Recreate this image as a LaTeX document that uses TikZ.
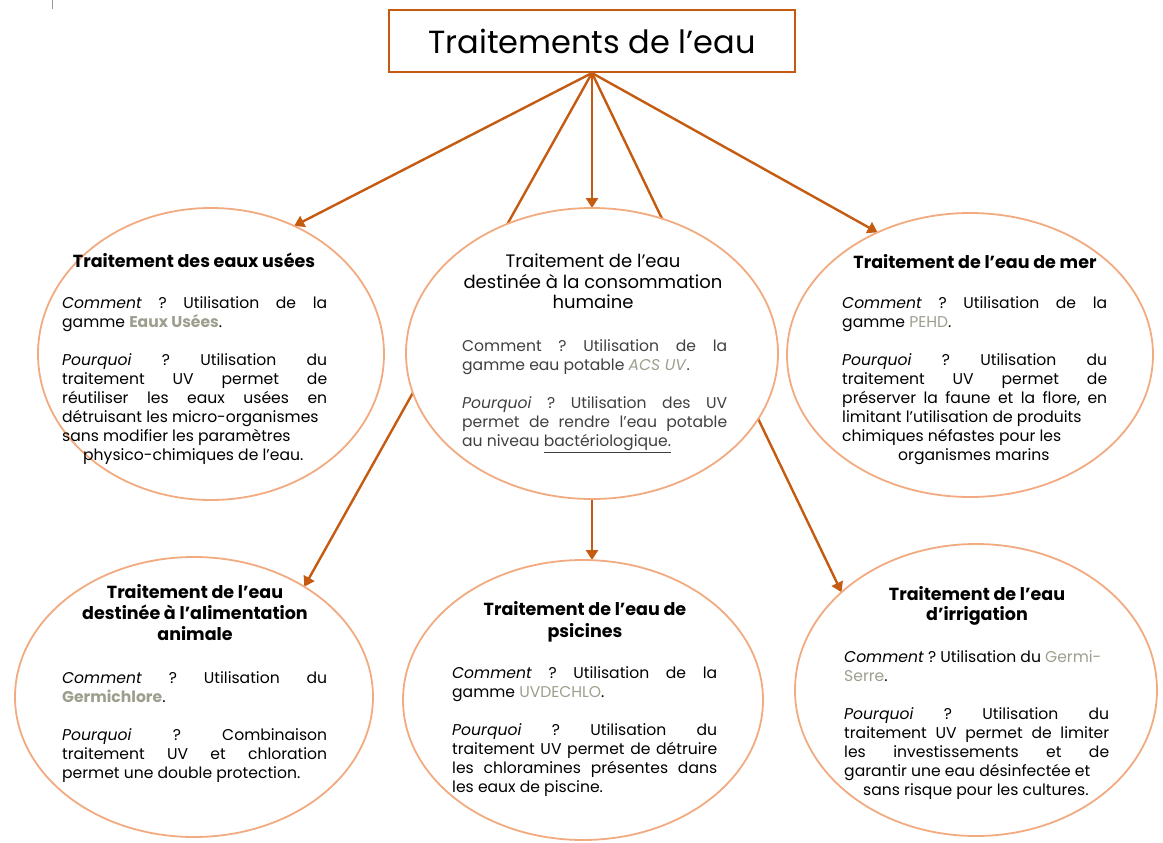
\documentclass[tikz,border=0pt]{standalone}
\usepackage{fontspec}
\setmainfont{Poppins}
\usetikzlibrary{shapes.geometric,arrows.meta}
\definecolor{connc}{RGB}{197,90,17}
\definecolor{ellc}{RGB}{242,170,128}
\definecolor{hlc}{RGB}{158,158,142}
\definecolor{softc}{RGB}{64,64,64}
\pgfdeclarelayer{bg}
\pgfsetlayers{bg,main}
\newcommand\bodyfs{\fontsize{15.6}{19}\selectfont}
\newcommand\headfs{\fontsize{17.5}{20.5}\selectfont}
\newcommand\headlfs{\fontsize{18}{20}\selectfont}
\tikzset{
  oval/.style={ellipse, draw=ellc, line width=1.8pt, inner sep=0pt, outer sep=0pt},
  titlebox/.style={draw=connc, line width=2pt, fill=white, inner sep=0pt,
    minimum width=406pt, minimum height=62pt, font=\fontsize{32}{40}\selectfont},
  conn/.style={draw=connc, line width=2.4pt},
  arr/.style={conn, -{Triangle[length=10pt,width=12pt]}},
  head/.style={anchor=north, inner sep=0pt, align=center, font=\headfs\bfseries},
  headlight/.style={anchor=north, inner sep=0pt, align=center, font=\headlfs},
  body/.style={anchor=north west, inner sep=0pt, text width=265pt, align=justify, font=\bodyfs},
}
\begin{document}
\frenchspacing
\begin{tikzpicture}[x=1pt,y=-1pt]
\useasboundingbox (0,0) rectangle (1163,843);
\draw[gray!80, line width=1pt] (52,0) -- (52,9);

% title
\node[titlebox] (title) at (592,41) {Traitements de l’eau};

% ellipses
\node[oval, minimum width=346pt, minimum height=292pt] (e1) at (211,354) {};
\node[oval, fill=white, minimum width=372pt, minimum height=291pt] (e2) at (592,353.5) {};
\node[oval, minimum width=366pt, minimum height=284pt] (e3) at (970,355) {};
\node[oval, minimum width=358pt, minimum height=280pt] (e4) at (194,697) {};
\node[oval, minimum width=360pt, minimum height=280pt] (e5) at (583,700) {};
\node[oval, minimum width=362pt, minimum height=292pt] (e6) at (976,690) {};

% headings
\node[head] (h1) at (194,252.65) {\strut Traitement des eaux usées};
\node[headlight] (h2) at (593,253) {\strut Traitement de l’eau\\destinée à la consommation\\humaine};
\node[head] (h3) at (975,253.65) {\strut Traitement de l’eau de mer};
\node[head] (h4) at (195,583.65) {\strut Traitement de l’eau\\destinée à l’alimentation\\animale};
\node[head] (h5) at (585,600.65) {\strut Traitement de l’eau de\\[1.5pt]psicines};
\node[head] (h6) at (977,585.65) {\strut Traitement de l’eau\\d’irrigation};

% bodies
\node[body] (b1) at (62,294.7) {\strut\textit{Comment} ? Utilisation de la\linebreak
gamme \textcolor{hlc}{\textbf{Eaux Usées}}.\\[19pt]
\textit{Pourquoi} ? Utilisation du\linebreak
traitement UV permet de\linebreak
réutiliser les eaux usées en\linebreak
détruisant les micro-organismes\\
sans modifier les paramètres\\
\hspace*{21pt}physico-chimiques de l’eau.};

\node[body, text=softc] (b2) at (462,337.7) {\strut Comment ? Utilisation de la\linebreak
gamme eau potable \textcolor{hlc}{\textit{ACS UV}}.\\[19pt]
\textit{Pourquoi} ? Utilisation des UV\linebreak
permet de rendre l’eau potable\linebreak
au niveau \underline{bactériologique.}};

\node[body] (b3) at (842,294.7) {\strut\textit{Comment} ? Utilisation de la\linebreak
gamme \textcolor{hlc}{PEHD}.\\[19pt]
\textit{Pourquoi} ? Utilisation du\linebreak
traitement UV permet de\linebreak
préserver la faune et la flore, en\linebreak
limitant l’utilisation de produits\\
chimiques néfastes pour les\\
\hspace*{56pt}organismes marins};

\node[body] (b4) at (62,669.7) {\strut\textit{Comment} ? Utilisation du\linebreak
\textcolor{hlc}{\textbf{Germichlore}}.\\[19pt]
\textit{Pourquoi} ? Combinaison\linebreak
traitement UV et chloration\linebreak
permet une double protection.};

\node[body] (b5) at (452,664.7) {\strut\textit{Comment} ? Utilisation de la\linebreak
gamme \textcolor{hlc}{UVDECHLO}.\\[19pt]
\textit{Pourquoi} ? Utilisation du\linebreak
traitement UV permet de détruire\linebreak
les chloramines présentes dans\linebreak
les eaux de piscine.};

\node[body] (b6) at (844,648.7) {\strut\textit{Comment} ? Utilisation du \textcolor{hlc}{Germi-}\\
\textcolor{hlc}{Serre}.\\[19pt]
\textit{Pourquoi} ? Utilisation du\linebreak
traitement UV permet de limiter\linebreak
les investissements et de\linebreak
garantir une eau désinfectée et\\
\hspace*{19pt}sans risque pour les cultures.};

% connectors (behind the ellipses)
\begin{pgfonlayer}{bg}
\draw[arr] (title.south) -- (e1.57);
\draw[arr] (title.south) -- (e3.127);
\draw[arr] (title.south) -- (title.south |- e2.north);
\draw[arr] (title.south) -- (e4.45);
\draw[arr] (title.south) -- (e6.144);
\draw[arr] (e2.south) -- (e2.south |- e5.north);
\end{pgfonlayer}
\end{tikzpicture}
\end{document}
